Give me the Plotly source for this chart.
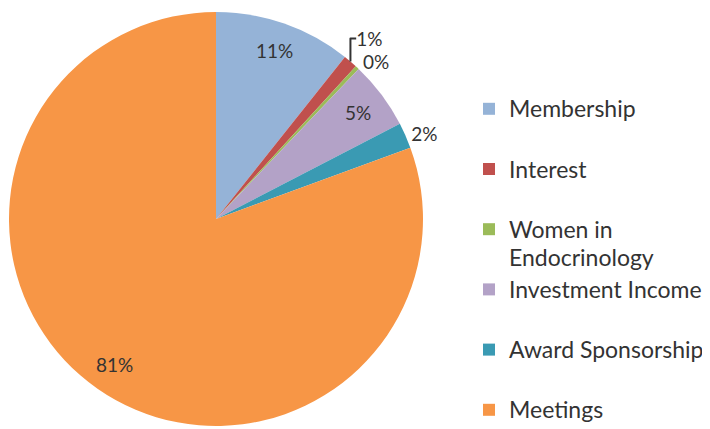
import math
import plotly.graph_objects as go

categories = ["Membership", "Interest", "Women in Endocrinology",
              "Investment Income", "Award Sponsorship", "Meetings"]
values = [10.7, 1.1, 0.3, 5.3, 2.0, 80.6]
colors = ["#95B3D7", "#C0504D", "#9BBB59", "#B3A2C7", "#3A9AB3", "#F79646"]
outside = [False, True, True, False, True, False]

FONT = "Lato, 'Open Sans', sans-serif"
TEXT_COLOR = "#333333"

# page body has an 8px margin, so the figure is sized to fit the window
W, H = 702, 421
PIE_X = [1 / W, 415 / W]
PIE_Y = [1 - 418 / H, 1 - 4 / H]
LABEL_R = 0.86  # inside labels sit at this fraction of the radius


def legend_label(name, last):
    if name == "Women in Endocrinology":
        parts = ["Women in", "Endocrinology"]
    elif last:
        parts = [name]
    else:
        parts = [name, " "]
    return "<br>".join(f"<span style='font-size:23px'>{p}</span>" for p in parts)


labels = [legend_label(c, i == len(categories) - 1) for i, c in enumerate(categories)]
total = sum(values)
pct_text = [f"{round(100 * v / total)}%" for v in values]

fig = go.Figure(go.Pie(
    labels=labels,
    values=values,
    sort=False,
    direction="clockwise",
    rotation=0,
    marker=dict(colors=colors, line=dict(width=0)),
    text=[t if o else "" for t, o in zip(pct_text, outside)],
    textinfo="text",
    textposition=["outside" if o else "none" for o in outside],
    outsidetextfont=dict(family=FONT, size=19, color=TEXT_COLOR),
    hoverinfo="skip",
    domain=dict(x=PIE_X, y=PIE_Y),
))

# inside labels placed on each slice's bisector
cx_px = W * (PIE_X[0] + PIE_X[1]) / 2
cy_px = H * (1 - (PIE_Y[0] + PIE_Y[1]) / 2)
r_px = min(W * (PIE_X[1] - PIE_X[0]), H * (PIE_Y[1] - PIE_Y[0])) / 2
cum = 0.0
for v, t, o in zip(values, pct_text, outside):
    mid = (cum + v / 2) / total * 2 * math.pi
    cum += v
    if o:
        continue
    px = cx_px + LABEL_R * r_px * math.sin(mid)
    py = cy_px - LABEL_R * r_px * math.cos(mid)
    fig.add_annotation(
        x=px / W, y=1 - py / H, xref="paper", yref="paper",
        xanchor="center", yanchor="middle",
        text=t, showarrow=False,
        font=dict(family=FONT, size=19, color=TEXT_COLOR),
    )

fig.update_layout(
    width=W, height=H,
    margin=dict(l=0, r=0, t=0, b=0, autoexpand=False),
    paper_bgcolor="white",
    plot_bgcolor="white",
    font=dict(family=FONT, color=TEXT_COLOR),
    showlegend=True,
    legend=dict(
        x=461 / W, y=1 - 80 / H, xanchor="left", yanchor="top",
        font=dict(family=FONT, size=22, color=TEXT_COLOR),
        valign="top",
        maxheight=420,
        bgcolor="rgba(0,0,0,0)",
    ),
)

fig.write_html("out.html")
